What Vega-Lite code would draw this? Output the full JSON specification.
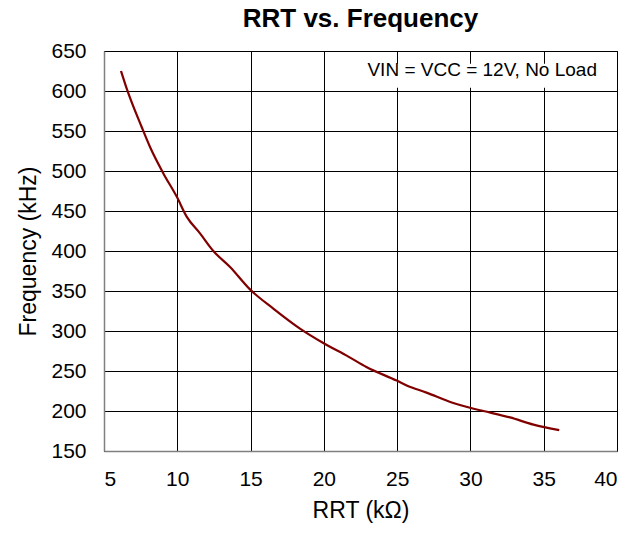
{
  "$schema": "https://vega.github.io/schema/vega-lite/v6.json",
  "autosize": {"type": "none"},
  "width": 513,
  "height": 400,
  "padding": {"left": 104, "top": 51, "right": 27, "bottom": 82},
  "background": "white",
  "config": {
    "font": "Liberation Sans",
    "view": {"stroke": "#000000", "strokeWidth": 1},
    "axis": {
      "grid": true,
      "gridColor": "#000000",
      "gridOpacity": 1,
      "gridWidth": 1,
      "domainColor": "#808080",
      "domainWidth": 1.5,
      "tickColor": "#808080",
      "labelFont": "Liberation Sans",
      "labelFontSize": 21,
      "labelColor": "#000000",
      "labelOverlap": false,
      "titleFont": "Liberation Sans",
      "titleFontSize": 23,
      "titleFontWeight": "normal",
      "titleColor": "#000000",
      "zindex": 0
    }
  },
  "title": {
    "text": "RRT vs. Frequency",
    "font": "Liberation Sans",
    "fontSize": 26,
    "fontWeight": "bold",
    "color": "#000000",
    "anchor": "middle",
    "offset": 8
  },
  "datasets": {
    "curve": [
      {"r": 6.16, "f": 625},
      {"r": 6.55, "f": 603},
      {"r": 7.57, "f": 555},
      {"r": 8.14, "f": 530},
      {"r": 9.05, "f": 497},
      {"r": 9.96, "f": 468},
      {"r": 10.64, "f": 443},
      {"r": 11.55, "f": 422},
      {"r": 12.46, "f": 400},
      {"r": 13.6, "f": 380},
      {"r": 14.96, "f": 352},
      {"r": 16.55, "f": 328},
      {"r": 18.37, "f": 303},
      {"r": 19.96, "f": 285},
      {"r": 21.67, "f": 268},
      {"r": 22.9, "f": 255},
      {"r": 24.97, "f": 238},
      {"r": 25.65, "f": 232},
      {"r": 27.0, "f": 223},
      {"r": 28.83, "f": 210},
      {"r": 29.97, "f": 204},
      {"r": 30.88, "f": 200},
      {"r": 32.7, "f": 192},
      {"r": 34.3, "f": 183},
      {"r": 36.06, "f": 176}
    ],
    "note": [
      {"x1": 21.8, "x2": 39.93, "y1": 604, "y2": 634, "tx": 40, "ty": 650, "label": "VIN = VCC = 12V, No Load"}
    ]
  },
  "layer": [
    {
      "data": {"name": "note"},
      "mark": {"type": "rect", "color": "white", "opacity": 1},
      "encoding": {
        "x": {"field": "x1", "type": "quantitative", "scale": {"domain": [5, 40], "nice": false}, "axis": {"values": [5,10,15,20,25,30,35,40], "title": "RRT (kΩ)", "labelPadding": 17, "labelOverlap": false, "tickSize": 0, "titlePadding": 10}},
        "x2": {"field": "x2"},
        "y": {"field": "y1", "type": "quantitative", "scale": {"domain": [150, 650], "nice": false}, "axis": {"values": [150,200,250,300,350,400,450,500,550,600,650], "title": "Frequency (kHz)", "labelPadding": 18, "labelOverlap": false, "tickSize": 0, "titlePadding": 10}},
        "y2": {"field": "y2"}
      }
    },
    {
      "data": {"name": "curve"},
      "mark": {"type": "line", "color": "#800000", "strokeWidth": 2.2, "interpolate": "monotone"},
      "encoding": {
        "x": {"field": "r", "type": "quantitative", "axis": {"values": [5,10,15,20,25,30,35,40], "title": "RRT (kΩ)", "labelPadding": 17, "labelOverlap": false, "tickSize": 0, "titlePadding": 10}},
        "y": {"field": "f", "type": "quantitative", "axis": {"values": [150,200,250,300,350,400,450,500,550,600,650], "title": "Frequency (kHz)", "labelPadding": 18, "labelOverlap": false, "tickSize": 0, "titlePadding": 10}}
      }
    },
    {
      "data": {"name": "note"},
      "mark": {"type": "text", "align": "right", "baseline": "alphabetic", "dx": -20, "dy": 25, "fontSize": 19, "font": "Liberation Sans", "color": "#000000"},
      "encoding": {
        "x": {"field": "tx", "type": "quantitative", "axis": {"values": [5,10,15,20,25,30,35,40], "title": "RRT (kΩ)", "labelPadding": 17, "labelOverlap": false, "tickSize": 0, "titlePadding": 10}},
        "y": {"field": "ty", "type": "quantitative", "axis": {"values": [150,200,250,300,350,400,450,500,550,600,650], "title": "Frequency (kHz)", "labelPadding": 18, "labelOverlap": false, "tickSize": 0, "titlePadding": 10}},
        "text": {"field": "label"}
      }
    }
  ]
}
